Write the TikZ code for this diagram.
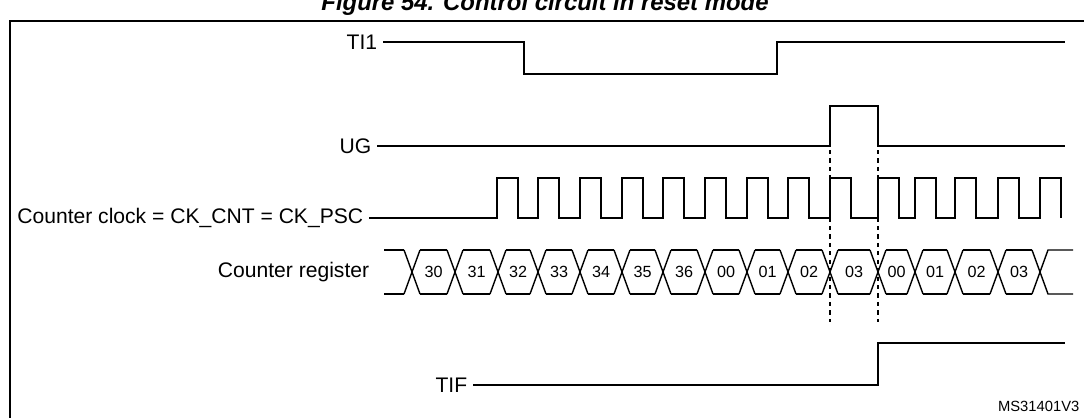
\documentclass[tikz,border=0pt]{standalone}
\usepackage{fontspec}
\setmainfont{Liberation Sans}
\usepackage{tikz}

\begin{document}
\begin{tikzpicture}[x=0.025cm, y=-0.025cm, line width=1pt,
    every node/.style={font=\fontsize{15}{17}\selectfont, outer sep=0pt},
    siglabel/.style={anchor=east, inner sep=2pt},
    cellval/.style={font=\fontsize{11.5}{13}\selectfont}]
    % Page area
    \useasboundingbox (0,0) rectangle (1084,417);
    \clip (0,0) rectangle (1084,417);
    \node[font=\bfseries\itshape\fontsize{17}{19}\selectfont] (title) at (545,4) {Figure 54. Control circuit in reset mode};
    \draw[line width=1.3pt] (1090,21) -- (10,21) -- (10,420);

    % Labels
    \node[siglabel] (ti1) at (380,42) {TI1};
    \node[siglabel] (ug) at (374,146) {UG};
    \node[siglabel] (ck) at (366,218) {Counter clock = CK\_CNT = CK\_PSC};
    \node[siglabel] (cnt) at (372,272) {Counter register};
    \node[siglabel] (tif) at (470,385) {TIF};
    \node[font=\fontsize{10.5}{12}\selectfont, anchor=east] (ver) at (1084,406) {MS31401V3};

    % TI1
    \draw (ti1.east) ++(3,0) -- (524,42) -- (524,74) -- (777,74) -- (777,42) -- (1065,42);
    % UG
    \draw (ug.east) ++(3,0) -- (830,146) -- (830,106) -- (878,106) -- (878,146) -- (1065,146);
    % Counter clock
    \draw (ck.east) ++(3,0) -- (497,218)
      \foreach \r in {497,538,580,622,663,705,747,788,830,878,915,955,998,1040}
        { -- (\r,218) -- (\r,178) -- ({\r+21},178) -- ({\r+21},218) };
    % Counter register
    \draw (cnt.east) ++(12,-22) coordinate (bt) -- (404,250);
    \draw (cnt.east) ++(12,22) coordinate (bb) -- (404,294);
    \foreach \a/\b/\v in {412/455/30,455/498/31,498/538/32,538/580/33,580/622/34,622/663/35,
                          663/705/36,705/747/00,747/788/01,788/830/02,830/878/03,878/915/00,
                          915/955/01,955/998/02,998/1040/03}{
      \draw ({\a-8},250) -- ({\a+8},294);
      \draw ({\a-8},294) -- ({\a+8},250);
      \draw ({\a+8},250) -- ({\b-8},250);
      \draw ({\a+8},294) -- ({\b-8},294);
      \node[cellval] (c\a) at ({(\a+\b)/2},272) {\v};
    }
    \draw (1032,250) -- (1048,294) -- (1073,294);
    \draw (1032,294) -- (1048,250) -- (1073,250);
    % TIF
    \draw (tif.east) ++(3,0) -- (878,385) -- (878,343) -- (1065,343);

    % Reset markers
    \draw[dashed, line width=0.8pt] (830,150) -- (830,322);
    \draw[dashed, line width=0.8pt] (878,150) -- (878,322);
\end{tikzpicture}
\end{document}
